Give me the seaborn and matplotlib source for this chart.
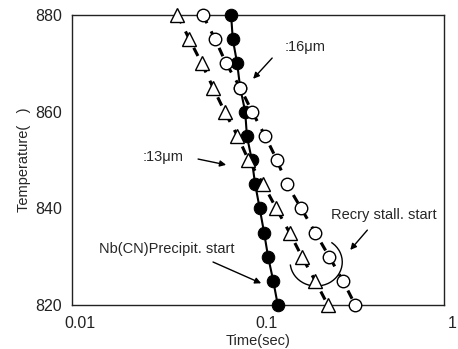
import matplotlib
matplotlib.use("Agg")
import matplotlib.pyplot as plt
import matplotlib.transforms as mtransforms
from matplotlib.patches import Arc
import seaborn as sns
import pandas as pd
import numpy as np

# temperatures (deg C), 5 degree steps from 880 down to 820
temps = [880, 875, 870, 865, 860, 855, 850, 845, 840, 835, 830, 825, 820]

# Nb(CN) precipitation start (filled circles, solid line)
t_precip = [0.0718, 0.0733, 0.0774, 0.0803, 0.0855, 0.0873, 0.0928,
            0.0967, 0.1023, 0.108, 0.1135, 0.121, 0.128]
# recrystallisation stall start, 16 um grain size (open circles)
t_16um = [0.0506, 0.0589, 0.0675, 0.0803, 0.0931, 0.1094, 0.1266,
          0.1433, 0.171, 0.2035, 0.242, 0.287, 0.334]
# recrystallisation stall start, 13 um grain size (open triangles)
t_13um = [0.0369, 0.0428, 0.0499, 0.0574, 0.0663, 0.0777, 0.089,
          0.107, 0.1256, 0.148, 0.1725, 0.2035, 0.238]

x_ticks = [0.01, 0.1, 1]
x_ticklabels = ["0.01", "0.1", "1"]
y_ticks = [820, 840, 860, 880]

sns.set_style("white")
plt.rcParams['font.family'] = ['Liberation Sans', 'Noto Sans CJK JP', 'DejaVu Sans']

fig = plt.figure(figsize=(4.58, 3.49), dpi=100)
ax = fig.add_axes([0.157, 0.126, 0.812, 0.831])

df_p = pd.DataFrame({"time": t_precip, "temp": temps})
df_13 = pd.DataFrame({"time": t_13um, "temp": temps})
df_16 = pd.DataFrame({"time": t_16um, "temp": temps})

sns.lineplot(data=df_p, x="time", y="temp", ax=ax, sort=False, estimator=None,
             color="black", lw=1.5, marker="o", markersize=9,
             markerfacecolor="black", markeredgecolor="black", clip_on=False, zorder=3)
sns.lineplot(data=df_13, x="time", y="temp", ax=ax, sort=False, estimator=None,
             color="black", lw=2.2, linestyle=(0, (3, 3)), marker="^", markersize=10.5,
             markerfacecolor="white", markeredgecolor="black", markeredgewidth=1,
             clip_on=False, zorder=4)
sns.lineplot(data=df_16, x="time", y="temp", ax=ax, sort=False, estimator=None,
             color="black", lw=2.2, linestyle=(0, (3, 3)), marker="o", markersize=9,
             markerfacecolor="white", markeredgecolor="black", markeredgewidth=1,
             clip_on=False, zorder=5)

ax.set_xscale("log")
ax.set_xlim(0.01, 1)
ax.set_ylim(820, 880)
ax.set_xticks(x_ticks)
ax.set_xticklabels(x_ticklabels)
ax.minorticks_off()
ax.set_yticks(y_ticks)
ax.tick_params(length=0, labelsize=11.5, colors="#222222")
ax.tick_params(axis="x", pad=8)
ax.tick_params(axis="y", pad=7)

# tick labels sit slightly right of the tick positions in the original
offset = mtransforms.ScaledTranslation(6 / 72, 0, fig.dpi_scale_trans)
for lab in ax.get_xticklabels():
    lab.set_transform(lab.get_transform() + offset)

for sp in ax.spines.values():
    sp.set_visible(True)
    sp.set_color("#222222")
    sp.set_linewidth(1.0)

ax.set_xlabel("Time(sec)", fontsize=10.5, labelpad=2)
ax.set_ylabel("Temperature(   )", fontsize=10.5, labelpad=3)

arrow = dict(arrowstyle="-|>", color="black", lw=1.0, mutation_scale=9,
             shrinkA=0, shrinkB=0)
ax.annotate("", xy=(0.0943, 866.8), xytext=(0.1194, 871.1), arrowprops=arrow)
ax.text(0.1386, 873.4, ":16μm", fontsize=10.5, va="center", ha="left")
ax.annotate("", xy=(0.0675, 849.0), xytext=(0.0477, 850.2), arrowprops=arrow)
ax.text(0.0241, 850.6, ":13μm", fontsize=10.5, va="center", ha="left")
ax.annotate("", xy=(0.1042, 824.5), xytext=(0.0574, 828.9), arrowprops=arrow)
ax.text(0.01397, 831.6, "Nb(CN)Precipit. start", fontsize=10.5, va="center", ha="left")
ax.annotate("", xy=(0.314, 831.4), xytext=(0.388, 835.5), arrowprops=arrow)
ax.text(0.248, 838.6, "Recry stall. start", fontsize=10.5, va="center", ha="left")

# open bracket drawn around the recrystallisation points
cx, cy = ax.transAxes.inverted().transform(ax.transData.transform((0.206, 828.9)))
ax.add_patch(Arc((cx, cy), 0.14, 0.166, theta1=187, theta2=59,
                 transform=ax.transAxes, color="black", lw=1.0, clip_on=False))

fig.savefig("out.png", dpi=100)
